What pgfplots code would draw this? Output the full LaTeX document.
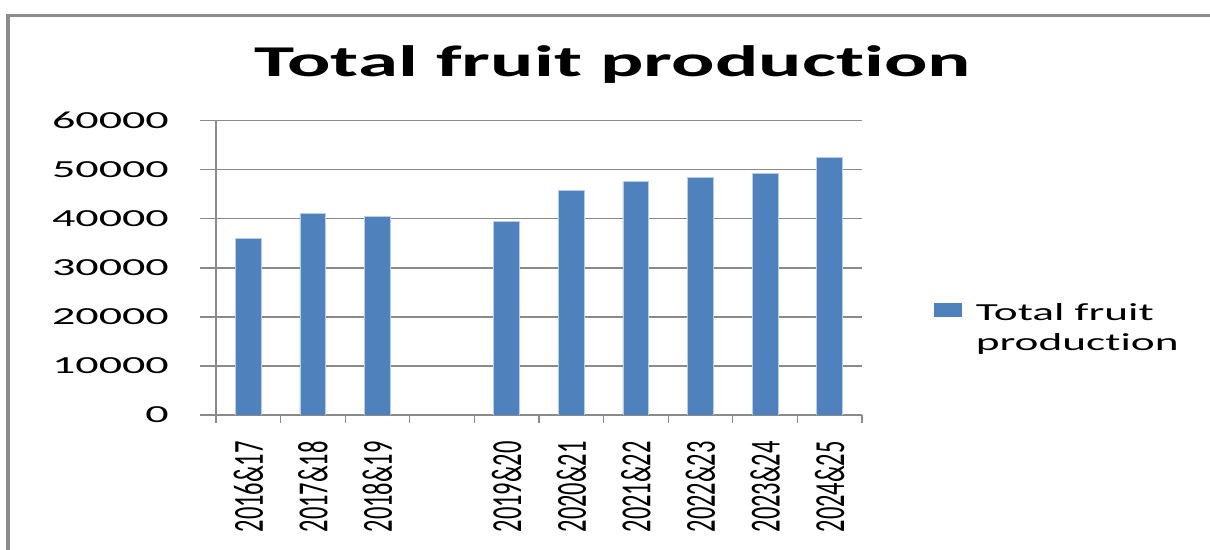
\documentclass[border=0pt]{standalone}
\usepackage{fontspec}
\setmainfont{Carlito}[Ligatures=NoCommon]
\usepackage{pgfplots}
\pgfplotsset{compat=1.18}
\usepackage{graphicx}
\definecolor{barblue}{HTML}{4F81BD}
\definecolor{barborder}{HTML}{B9CDE5}
\definecolor{gridgray}{HTML}{8A8A8A}
\definecolor{framegray}{HTML}{8C8C8C}
\newcommand\xs[1]{\scalebox{1}[1.75]{#1}}
\newcommand\ys[1]{\scalebox{1.88}[1]{#1}}
\begin{document}
\begin{tikzpicture}
\path[use as bounding box] (0bp,0bp) rectangle (1210bp,550bp);
\begin{scope}
\clip (0bp,0bp) rectangle (1210bp,550bp);
\draw[framegray, line width=3.5bp] (8bp,-20bp) -- (8bp,534.5bp) -- (1230bp,534.5bp);
\end{scope}
\node[font=\fontsize{44bp}{50bp}\selectfont\bfseries, anchor=base, inner sep=0pt] at (612.5bp,473.3bp) {\scalebox{1.84}[1]{Total fruit production}};
\begin{axis}[
  at={(216bp,135bp)}, anchor=south west,
  scale only axis, width=646bp, height=294.3bp,
  xmin=-0.5, xmax=9.5, ymin=0, ymax=60000,
  scaled y ticks=false,
  axis x line*=bottom, axis y line*=left,
  axis line style={-, draw=gridgray, line width=1.3bp},
  ytick={0,10000,20000,30000,40000,50000,60000},
  yticklabels={\ys{0},\ys{10000},\ys{20000},\ys{30000},\ys{40000},\ys{50000},\ys{60000}},
  ymajorgrids, grid style={draw=gridgray, line width=1.3bp},
  tick align=outside,
  major tick length=16bp,
  ytick style={draw=gridgray, line width=1.3bp},
  xtick={0,...,9},
  xtick style={draw=none},
  extra x ticks={-0.5,0.5,1.5,2.5,3.5,4.5,5.5,6.5,7.5,8.5,9.5},
  extra x tick labels={},
  extra x tick style={major tick length=8bp, xtick style={draw=gridgray, line width=1.3bp}},
  xticklabels={\xs{2016\&17},\xs{2017\&18},\xs{2018\&19},{},\xs{2019\&20},\xs{2020\&21},\xs{2021\&22},\xs{2022\&23},\xs{2023\&24},\xs{2024\&25}},
  yticklabel style={font=\fontsize{24.5bp}{30bp}\selectfont, anchor=east, inner sep=0pt, xshift=-31bp},
  xticklabel style={font=\fontsize{24.5bp}{30bp}\selectfont, rotate=90, anchor=east, inner sep=0pt, xshift=-10bp},
  legend style={at={(1.1115,0.3908)}, anchor=north west, draw=none, fill=none, inner sep=0pt, outer sep=0pt,
    font=\fontsize{24.5bp}{30bp}\selectfont, nodes={inner sep=0pt}, column sep=14bp},
  legend cell align=left,
  legend image code/.code={\fill[barblue] (0bp,-5bp) rectangle (27bp,8bp);},
]
\addplot[ybar, bar width=0.4, fill=barblue, draw=barborder, line width=0.8bp]
  coordinates {(0,36000) (1,41100) (2,40400) (4,39400) (5,45700) (6,47600) (7,48500) (8,49300) (9,52500)};
\addlegendentry{\scalebox{1.85}[1]{\begin{tabular}[t]{@{}l@{}}Total fruit\\production\end{tabular}}}
\end{axis}
\end{tikzpicture}
\end{document}
